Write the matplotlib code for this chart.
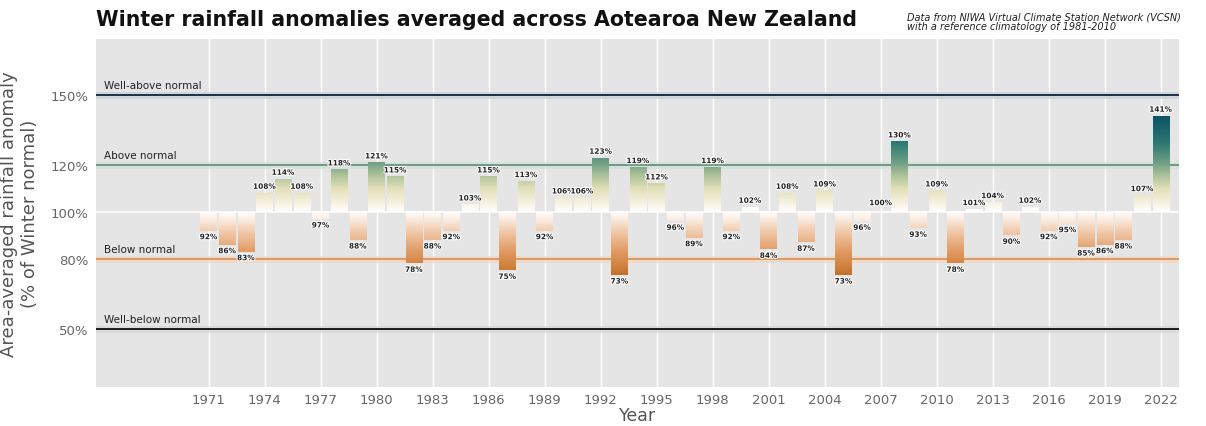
import numpy as np
import matplotlib
matplotlib.use("Agg")
import matplotlib.pyplot as plt
import matplotlib.patheffects as pe
from matplotlib.colors import LinearSegmentedColormap, Normalize

# ----------------------------------------------------------------------
# DATA
# ----------------------------------------------------------------------

years = list(range(1971, 2023))
anomaly = [92, 86, 83, 108, 114, 108, 97, 118, 88, 121,
           115, 78, 88, 92, 103, 115, 75, 113, 92, 106,
           106, 123, 73, 119, 112, 96, 89, 119, 92, 102,
           84, 108, 87, 109, 73, 96, 100, 130, 93, 109,
           78, 101, 104, 90, 102, 92, 95, 85, 86, 88,
           107, 141]

ref_levels = [150, 120, 80, 50]
ref_labels = ["Well-above normal", "Above normal", "Below normal", "Well-below normal"]
ref_colors = ["#1e2f48", "#6f9a86", "#d89a68", "#1a1a1a"]
ref_glow = ["#c9d1dc", "#d3e0da", "#f3d6c0", "#d8d8d8"]

ytick_vals = [50, 80, 100, 120, 150]
xtick_vals = list(range(1971, 2023, 3))

# ----------------------------------------------------------------------
# COLOURS
# ----------------------------------------------------------------------

VMIN, VMAX = 70, 142
stops = [
    (70, "#ad651c"),
    (76, "#cf7f3a"),
    (84, "#e3a06a"),
    (92, "#f1cdb0"),
    (97, "#fbeee4"),
    (100, "#ffffff"),
    (104, "#f5f1df"),
    (110, "#e2dfb8"),
    (116, "#a9bf98"),
    (121, "#6f9e85"),
    (130, "#2a7772"),
    (142, "#0b5066"),
]
cmap = LinearSegmentedColormap.from_list(
    "rain", [((v - VMIN) / (VMAX - VMIN), c) for v, c in stops])
norm = Normalize(VMIN, VMAX)

halo = [pe.withStroke(linewidth=1.5, foreground="white")]

# ----------------------------------------------------------------------
# PLOT
# ----------------------------------------------------------------------

fig = plt.figure(figsize=(12.06, 4.27), dpi=100)
ax = fig.add_axes([0.080, 0.091, 0.898, 0.815])
ax.set_facecolor("#e5e5e5")
for s in ax.spines.values():
    s.set_visible(False)

# grid
for x in xtick_vals:
    ax.axvline(x, color="white", lw=1.0, zorder=0)
ax.axhline(100, color="white", lw=1.2, zorder=0)

# reference lines
for lvl, lab, col, glow in zip(ref_levels, ref_labels, ref_colors, ref_glow):
    ax.axhline(lvl, color=glow, lw=5, alpha=0.8, zorder=1)
    ax.axhline(lvl, color=col, lw=1.4, zorder=2)
    ax.text(1965.4, lvl + 2.2, lab, fontsize=7.5, color="#222222",
            va="bottom", ha="left", zorder=3)

# gradient bars
width = 0.88
grad = np.linspace(0, 1, 200).reshape(-1, 1)
for yr, val in zip(years, anomaly):
    if val != 100:
        vals = 100 + grad * (val - 100)
        ax.imshow(norm(vals), cmap=cmap, vmin=0, vmax=1, aspect="auto",
                  extent=[yr - width / 2, yr + width / 2, 100, val],
                  origin="lower", interpolation="bilinear", zorder=4)
    if val >= 100:
        ax.text(yr, max(val, 101) + 1.5, f"{val}%", ha="center", va="bottom",
                fontsize=5.3, fontweight="bold", color="#222222", zorder=6,
                path_effects=halo)
    else:
        ax.text(yr, val - 1.5, f"{val}%", ha="center", va="top",
                fontsize=5.3, fontweight="bold", color="#222222", zorder=6,
                path_effects=halo)

ax.set_xlim(1965, 2023)
ax.set_ylim(25, 174)

ax.set_xticks(xtick_vals)
ax.set_xticklabels([str(x) for x in xtick_vals])
ax.set_yticks(ytick_vals)
ax.set_yticklabels([f"{v}%" for v in ytick_vals])
ax.tick_params(axis="x", length=0, labelsize=9.5, colors="#666666", pad=4)
ax.tick_params(axis="y", length=0, labelsize=9.5, colors="#666666", pad=6)

ax.set_xlabel("Year", fontsize=12.5, color="#555555", labelpad=0)
ax.set_ylabel("Area-averaged rainfall anomaly\n(% of Winter normal)",
              fontsize=13, color="#555555", labelpad=8)

fig.text(0.080, 0.93, "Winter rainfall anomalies averaged across Aotearoa New Zealand",
         fontsize=14.8, fontweight="bold", color="#111111", ha="left", va="bottom")
fig.text(0.752, 0.925,
         "Data from NIWA Virtual Climate Station Network (VCSN)\nwith a reference climatology of 1981-2010",
         fontsize=7, style="italic", color="#222222", ha="left", va="bottom",
         linespacing=1.0)

fig.savefig("out.png", dpi=100, facecolor="white")
